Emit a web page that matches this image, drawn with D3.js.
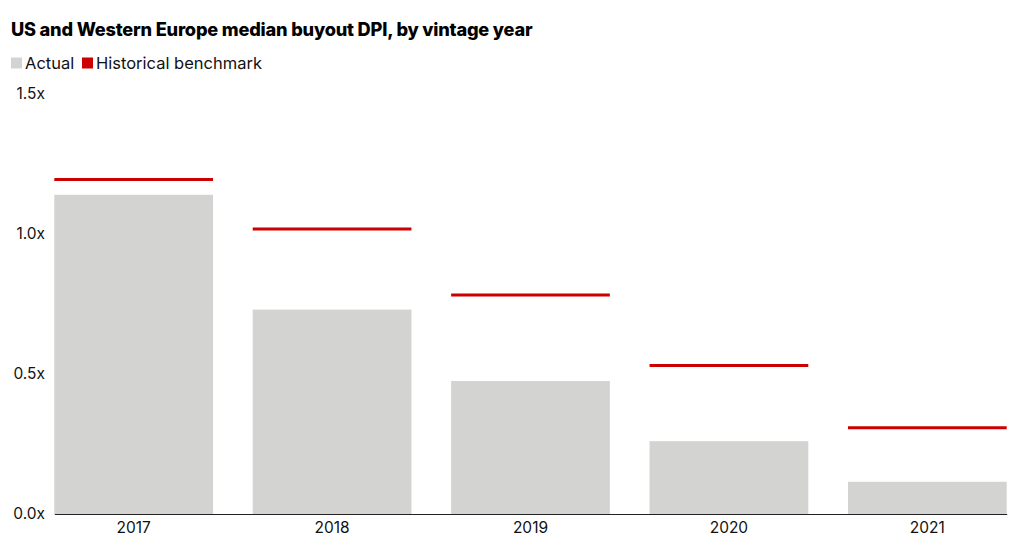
<!DOCTYPE html>
<html><head><meta charset="utf-8">
<script src="https://cdn.jsdelivr.net/npm/d3@7"></script>
<style>body{margin:0;background:#fff;font-family:Inter,"Noto Sans",sans-serif;}</style>
</head><body><svg id="c" width="1020" height="549"></svg>
<script>
const categories = ["2017","2018","2019","2020","2021"];
const actual = [1.14, 0.73, 0.475, 0.26, 0.115];
const benchmark = [1.195, 1.018, 0.782, 0.53, 0.308];
const yTicks = [0, 0.5, 1.0, 1.5];
const title = "US and Western Europe median buyout DPI, by vintage year";
const legendLabels = ["Actual", "Historical benchmark"];

const svg = d3.select("#c");
const grey = "#d3d3d1", red = "#cc0000";
const x = d3.scaleBand().domain(categories).range([54.3, 1006.7]).paddingInner(0.2).paddingOuter(0);
const y = d3.scaleLinear().domain([0, 1.5]).range([514, 94]);

svg.append("text").attr("x", 11).attr("y", 35.5).attr("font-size", 18.2).attr("font-weight", 800)
  .attr("fill", "#000").attr("letter-spacing", -0.2).text(title);

const lg = svg.append("g");
lg.append("rect").attr("x", 11).attr("y", 57.5).attr("width", 11).attr("height", 11).attr("fill", grey);
lg.append("text").attr("x", 25).attr("y", 69).attr("font-size", 16.5).attr("fill", "#111").text(legendLabels[0]);
lg.append("rect").attr("x", 82).attr("y", 57.5).attr("width", 11).attr("height", 11).attr("fill", red);
lg.append("text").attr("x", 96).attr("y", 69).attr("font-size", 16.5).attr("fill", "#111").text(legendLabels[1]);

svg.append("g").selectAll("rect").data(categories).join("rect")
  .attr("x", d => x(d)).attr("width", x.bandwidth())
  .attr("y", (d,i) => y(actual[i])).attr("height", (d,i) => y(0) - y(actual[i]))
  .attr("fill", grey);

svg.append("g").selectAll("line").data(categories).join("line")
  .attr("x1", d => x(d)).attr("x2", d => x(d) + x.bandwidth())
  .attr("y1", (d,i) => y(benchmark[i])).attr("y2", (d,i) => y(benchmark[i]))
  .attr("stroke", red).attr("stroke-width", 3);

const yAxis = svg.append("g").attr("transform", "translate(45,0)")
  .call(d3.axisLeft(y).tickValues(yTicks).tickSize(0).tickPadding(0).tickFormat(d => d.toFixed(1) + "x"));
yAxis.select(".domain").remove();
yAxis.selectAll("text").attr("font-size", 15.5).attr("fill", "#111").attr("font-family", "Inter,'Noto Sans',sans-serif");

const xAxis = svg.append("g").attr("transform", "translate(0,514)")
  .call(d3.axisBottom(x).tickSize(0).tickPadding(8).tickSizeOuter(0));
xAxis.select(".domain").attr("stroke", "#222").attr("stroke-width", 1.2);
xAxis.selectAll("text").attr("font-size", 15.5).attr("fill", "#111").attr("font-family", "Inter,'Noto Sans',sans-serif");
</script></body></html>
